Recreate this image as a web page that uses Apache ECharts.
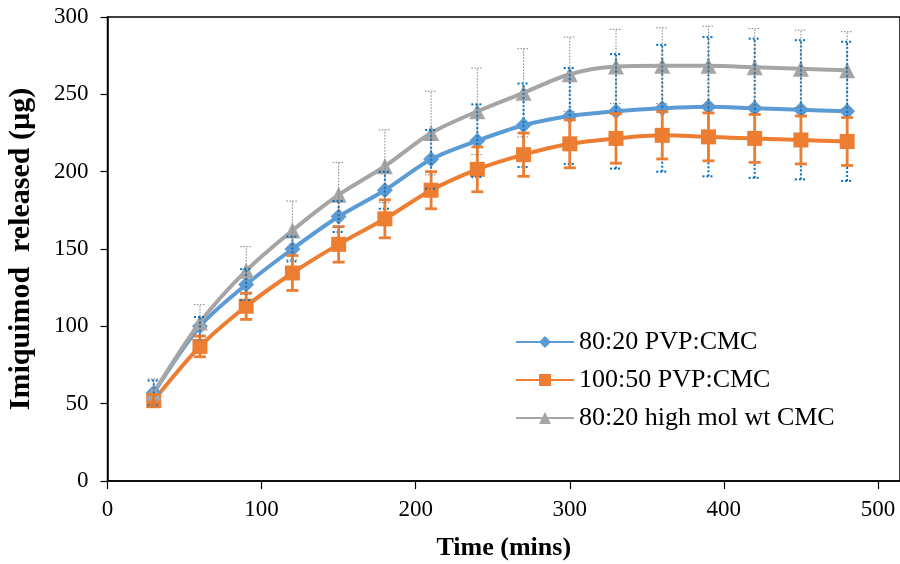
<!DOCTYPE html>
<html><head><meta charset="utf-8">
<script src="https://cdn.jsdelivr.net/npm/echarts@6/dist/echarts.min.js"></script>
<style>html,body{margin:0;padding:0;background:#fff}#c{width:900px;height:564px}</style>
</head><body><div id="c"></div>
<script>
// ---- data ----
const times = [30,60,90,120,150,180,210,240,270,300,330,360,390,420,450,480];
const names = ['80:20 PVP:CMC','100:50 PVP:CMC','80:20 high mol wt CMC'];
const pvp8020Mean = [57,100,127,150,171,188,208,220,230,236,239,241,242,241,240,239];
const pvp8020Err  = [8,6,10,8,10,12,19,23.5,27,31,37,41,45,45,45,45];
const pvp10050Mean = [52,87,113,134.5,153,169.5,188,201.5,211,218,221.5,223.5,222.5,221.5,220.5,219.5];
const pvp10050Err  = [4,6.7,8.5,11.3,11.5,12.3,12,14.5,14,15.5,16,15.3,15.5,15.5,15.5,15.5];
const highMwMean = [57,102.5,136,162,185,203.5,225,239,251,263,268,268.5,268.5,267.5,266.5,265.5];
const highMwErr  = [9,11.5,15.5,19,21,23.5,27,28,28.5,24,24,24.5,25.5,25,25,25];
const xTickLabels = [0,100,200,300,400,500];
const yTickLabels = [0,50,100,150,200,250,300];

const colors = ['#5B9BD5','#ED7D31','#A5A5A5'];
const font = 'Liberation Serif';

function pts(mean){ return times.map((t,i)=>[t, mean[i]]); }
function errs(mean, err){ return times.map((t,i)=>[t, mean[i]-err[i], mean[i]+err[i]]); }

function errRender(style, capW){
  return function(params, api){
    const x = api.value(0), lo = api.value(1), hi = api.value(2);
    const p1 = api.coord([x, lo]), p2 = api.coord([x, hi]);
    const h = capW/2;
    return {type:'group', children:[
      {type:'line', shape:{x1:p1[0],y1:p1[1],x2:p2[0],y2:p2[1]}, style:style},
      {type:'line', shape:{x1:p1[0]-h,y1:p1[1],x2:p1[0]+h,y2:p1[1]}, style:style},
      {type:'line', shape:{x1:p2[0]-h,y1:p2[1],x2:p2[0]+h,y2:p2[1]}, style:style}
    ]};
  };
}

const chart = echarts.init(document.getElementById('c'), null, {renderer:'canvas'});
const lineCommon = {type:'line', smooth:0.3, z:2, lineStyle:{width:4}, emphasis:{disabled:true}};
chart.setOption({
  animation:false,
  backgroundColor:'#fff',
  grid:{left:107.5, top:17, right:0, bottom:83, outerBoundsMode:'none', containLabel:false,
    show:true, borderColor:'#000', borderWidth:1.5, backgroundColor:'transparent'},
  legend:{
    data:names, orient:'vertical', left:510, top:324, itemWidth:58, itemHeight:15, itemGap:12,
    textStyle:{fontFamily:font, fontSize:26, color:'#000'}
  },
  xAxis:{
    type:'value', min:0, max:514.3, interval:100,
    axisLine:{lineStyle:{color:'#000', width:1.5}},
    axisTick:{inside:false, length:8, lineStyle:{color:'#000', width:1.2}},
    axisLabel:{fontFamily:font, fontSize:23, color:'#000', margin:17, showMaxLabel:false,
      formatter:function(v){ return xTickLabels.indexOf(v) >= 0 ? String(v) : ''; }},
    splitLine:{show:false},
    name:'Time (mins)', nameLocation:'middle', nameGap:54,
    nameTextStyle:{fontFamily:font, fontSize:26, fontWeight:'bold', color:'#000'}
  },
  yAxis:{
    type:'value', min:0, max:300, interval:50,
    axisLine:{lineStyle:{color:'#000', width:1.5}},
    axisTick:{inside:false, length:7, lineStyle:{color:'#000', width:1.2}},
    axisLabel:{fontFamily:font, fontSize:23, color:'#000', margin:19,
      formatter:function(v){ return yTickLabels.indexOf(v) >= 0 ? String(v) : ''; }},
    splitLine:{show:false},
    name:'Imiquimod  released (µg)', nameLocation:'middle', nameGap:71,
    nameTextStyle:{fontFamily:font, fontSize:30, fontWeight:'bold', color:'#000'}
  },
  series:[
    Object.assign({}, lineCommon, {name:names[0], data:pts(pvp8020Mean), color:colors[0], symbol:'diamond', symbolSize:16}),
    Object.assign({}, lineCommon, {name:names[1], data:pts(pvp10050Mean), color:colors[1], symbol:'rect', symbolSize:15}),
    Object.assign({}, lineCommon, {name:names[2], data:pts(highMwMean), color:colors[2], symbol:'triangle', symbolSize:16}),
    {type:'custom', name:'e1', z:3, data:errs(pvp8020Mean,pvp8020Err),
      renderItem:errRender({stroke:'#0070C0', lineWidth:2, lineDash:[2,2]}, 12), silent:true},
    {type:'custom', name:'e2', z:3, data:errs(pvp10050Mean,pvp10050Err),
      renderItem:errRender({stroke:'#ED7D31', lineWidth:2.8}, 12), silent:true},
    {type:'custom', name:'e3', z:3, data:errs(highMwMean,highMwErr),
      renderItem:errRender({stroke:'#808080', lineWidth:1, lineDash:[1.5,1.5]}, 12), silent:true}
  ]
});
</script></body></html>
